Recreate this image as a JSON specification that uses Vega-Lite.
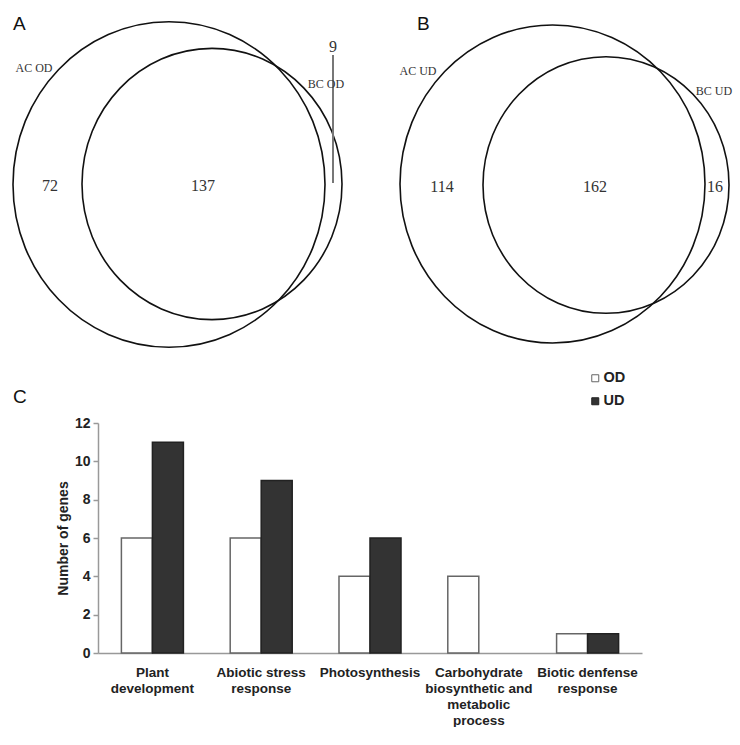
{
  "$schema": "https://vega.github.io/schema/vega-lite/v6.json",
  "padding": 0,
  "background": "white",
  "spacing": 0,
  "bounds": "flush",
  "center": true,
  "config": {"view": {"stroke": null}, "font": "Liberation Sans"},
  "datasets": {
    "ellipses": [
      {"panel": "A", "set": "AC OD", "cx": 169, "cy": 184.5, "d": 312},
      {"panel": "A", "set": "BC OD", "cx": 212, "cy": 184, "d": 260},
      {"panel": "B", "set": "AC UD", "cx": 552.5, "cy": 184, "d": 305},
      {"panel": "B", "set": "BC UD", "cx": 606, "cy": 185, "d": 246}
    ],
    "setLabels": [
      {"panel": "A", "text": "AC OD", "x": 34, "y": 68},
      {"panel": "A", "text": "BC OD", "x": 326, "y": 84},
      {"panel": "B", "text": "AC UD", "x": 418, "y": 71},
      {"panel": "B", "text": "BC UD", "x": 714, "y": 91}
    ],
    "counts": [
      {"panel": "A", "text": "72", "x": 50, "y": 186},
      {"panel": "A", "text": "137", "x": 203, "y": 186},
      {"panel": "A", "text": "9", "x": 333, "y": 47},
      {"panel": "B", "text": "114", "x": 442, "y": 187},
      {"panel": "B", "text": "162", "x": 595, "y": 187},
      {"panel": "B", "text": "16", "x": 715, "y": 187}
    ],
    "leader": [
      {"panel": "A", "x": 333, "y": 55, "y2": 183}
    ],
    "letters": [
      {"panel": "A", "text": "A", "x": 13, "y": 24},
      {"panel": "B", "text": "B", "x": 417, "y": 24},
      {"panel": "C", "text": "C", "x": 13, "y": 397}
    ],
    "genes": [
      {"category": "Plant development", "type": "OD", "genes": 6},
      {"category": "Plant development", "type": "UD", "genes": 11},
      {"category": "Abiotic stress response", "type": "OD", "genes": 6},
      {"category": "Abiotic stress response", "type": "UD", "genes": 9},
      {"category": "Photosynthesis", "type": "OD", "genes": 4},
      {"category": "Photosynthesis", "type": "UD", "genes": 6},
      {"category": "Carbohydrate biosynthetic and metabolic process", "type": "OD", "genes": 4},
      {"category": "Carbohydrate biosynthetic and metabolic process", "type": "UD", "genes": 0},
      {"category": "Biotic denfense response", "type": "OD", "genes": 1},
      {"category": "Biotic denfense response", "type": "UD", "genes": 1}
    ]
  },
  "vconcat": [
    {
      "width": 740,
      "height": 423,
      "layer": [
        {
          "data": {"name": "ellipses"},
          "mark": {"type": "point", "shape": "M -1 0 A 1 1.043 0 1 1 1 0 A 1 1.043 0 1 1 -1 0 Z", "filled": false, "color": "#111111", "strokeWidth": 1.6, "opacity": 1},
          "encoding": {
            "x": {"field": "cx", "type": "quantitative", "scale": {"domain": [0, 740], "nice": false, "zero": false}, "axis": null},
            "y": {"field": "cy", "type": "quantitative", "scale": {"domain": [0, 423], "nice": false, "zero": false, "reverse": true}, "axis": null},
            "size": {"field": "d", "type": "quantitative", "scale": {"type": "pow", "exponent": 2, "domain": [0, 400], "range": [0, 160000]}, "legend": null}
          }
        },
        {
          "data": {"name": "leader"},
          "mark": {"type": "rule", "color": "#777777", "strokeWidth": 2},
          "encoding": {
            "x": {"field": "x", "type": "quantitative"},
            "y": {"field": "y", "type": "quantitative"},
            "y2": {"field": "y2"}
          }
        },
        {
          "data": {"name": "setLabels"},
          "mark": {"type": "text", "font": "Liberation Serif", "fontSize": 12, "color": "#333333", "align": "center", "baseline": "middle"},
          "encoding": {
            "x": {"field": "x", "type": "quantitative"},
            "y": {"field": "y", "type": "quantitative"},
            "text": {"field": "text"}
          }
        },
        {
          "data": {"name": "counts"},
          "mark": {"type": "text", "font": "Liberation Serif", "fontSize": 16, "color": "#333333", "align": "center", "baseline": "middle"},
          "encoding": {
            "x": {"field": "x", "type": "quantitative"},
            "y": {"field": "y", "type": "quantitative"},
            "text": {"field": "text"}
          }
        },
        {
          "data": {"name": "letters"},
          "mark": {"type": "text", "font": "Liberation Sans", "fontSize": 19, "color": "#111111", "align": "left", "baseline": "middle"},
          "encoding": {
            "x": {"field": "x", "type": "quantitative"},
            "y": {"field": "y", "type": "quantitative"},
            "text": {"field": "text"}
          }
        }
      ]
    },
    {
      "width": 544,
      "height": 230,
      "data": {"name": "genes"},
      "mark": {"type": "bar", "strokeWidth": 1.5},
      "encoding": {
        "x": {
          "field": "category", "type": "nominal", "sort": null,
          "scale": {"paddingInner": 0.43, "paddingOuter": 0.215},
          "axis": {
            "title": null, "ticks": false, "domainColor": "#999999", "domainWidth": 1.5,
            "labelAngle": 0, "labelFont": "Liberation Sans", "labelFontWeight": "bold", "labelFontSize": 13.5,
            "labelColor": "#222222", "labelPadding": 12, "labelLineHeight": 16, "labelOverlap": false, "labelLimit": 0,
            "labelExpr": "datum.value == 'Plant development' ? ['Plant', 'development'] : datum.value == 'Abiotic stress response' ? ['Abiotic stress', 'response'] : datum.value == 'Carbohydrate biosynthetic and metabolic process' ? ['Carbohydrate', 'biosynthetic and', 'metabolic', 'process'] : datum.value == 'Biotic denfense response' ? ['Biotic denfense', 'response'] : datum.label"
          }
        },
        "xOffset": {"field": "type", "type": "nominal", "sort": ["OD", "UD"], "scale": {"paddingInner": 0, "paddingOuter": 0}},
        "y": {
          "field": "genes", "type": "quantitative",
          "scale": {"domain": [0, 12], "nice": false},
          "axis": {
            "values": [0, 2, 4, 6, 8, 10, 12], "grid": false, "domainColor": "#999999", "domainWidth": 1.5,
            "tickColor": "#999999", "tickSize": 5, "tickWidth": 1.5,
            "labelFont": "Liberation Sans", "labelFontWeight": "bold", "labelFontSize": 14, "labelColor": "#222222", "labelPadding": 3,
            "title": "Number of genes", "titleFont": "Liberation Sans", "titleFontSize": 14, "titleFontWeight": "bold", "titleColor": "#222222", "titlePadding": 4
          }
        },
        "fill": {
          "field": "type", "type": "nominal",
          "scale": {"domain": ["OD", "UD"], "range": ["#ffffff", "#333333"]},
          "legend": {"title": null, "orient": "none", "legendX": 588, "legendY": 371, "symbolType": "square", "symbolSize": 49, "symbolStrokeWidth": 1, "labelFont": "Liberation Sans", "labelFontWeight": "bold", "labelFontSize": 14.5, "labelColor": "#222222", "rowPadding": 8, "labelOffset": 1, "padding": 0}
        },
        "stroke": {
          "field": "type", "type": "nominal",
          "scale": {"domain": ["OD", "UD"], "range": ["#666666", "#222222"]},
          "legend": {"title": null, "orient": "none", "legendX": 588, "legendY": 371, "symbolType": "square", "symbolSize": 49, "symbolStrokeWidth": 1, "labelFont": "Liberation Sans", "labelFontWeight": "bold", "labelFontSize": 14.5, "labelColor": "#222222", "rowPadding": 8, "labelOffset": 1, "padding": 0}
        },
        "strokeOpacity": {"condition": {"test": "datum.genes == 0", "value": 0}, "value": 1}
      }
    }
  ]
}
